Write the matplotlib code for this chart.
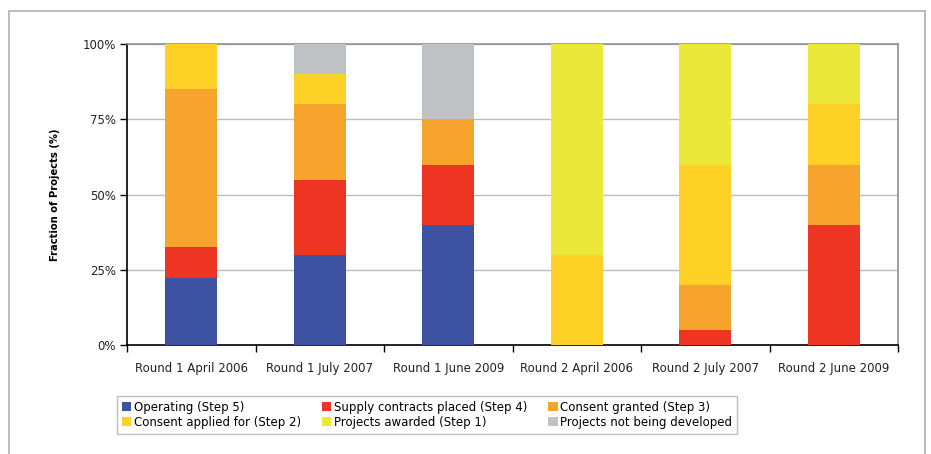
import numpy as np
import matplotlib
matplotlib.use("Agg")
from matplotlib import pyplot as plt
from matplotlib.patches import Rectangle

categories = ["Round 1 April 2006", "Round 1 July 2007", "Round 1 June 2009",
              "Round 2 April 2006", "Round 2 July 2007", "Round 2 June 2009"]

# fractions of projects (%) per stage, bottom to top
operating = [22.5, 30, 40, 0, 0, 0]
supply_contracts = [10, 25, 20, 0, 5, 40]
consent_granted = [52.5, 25, 15, 0, 15, 20]
consent_applied = [15, 10, 0, 30, 40, 20]
projects_awarded = [0, 0, 0, 70, 40, 20]
not_developed = [0, 10, 25, 0, 0, 0]

series = [
    ("Operating (Step 5)", operating, "#3D52A1"),
    ("Supply contracts placed (Step 4)", supply_contracts, "#EE3524"),
    ("Consent granted (Step 3)", consent_granted, "#F7A42E"),
    ("Consent applied for (Step 2)", consent_applied, "#FDD125"),
    ("Projects awarded (Step 1)", projects_awarded, "#EBE83A"),
    ("Projects not being developed", not_developed, "#C0C1C4"),
]

fig = plt.figure(figsize=(9.31, 4.54), dpi=100)
fig.patches.append(Rectangle((9 / 931, -0.1), (925 - 9) / 931, 1.1 - 11 / 454,
                             transform=fig.transFigure, fill=False,
                             edgecolor="#b0b0b0", linewidth=1.2, zorder=0))

ax = fig.add_axes([127 / 931, 1 - 345.3 / 454, 771 / 931, 301.3 / 454])

x = np.arange(len(categories))
bottom = np.zeros(len(categories))
handles = []
for label, vals, color in series:
    vals = np.array(vals, dtype=float)
    h = ax.bar(x, vals, bottom=bottom, width=0.405, color=color, label=label,
               linewidth=0, zorder=3)
    handles.append(h)
    bottom += vals

ax.set_xlim(-0.5, len(categories) - 0.5)
ax.set_ylim(0, 100)
ax.set_yticks([0, 25, 50, 75, 100])
ax.set_yticklabels(["0%", "25%", "50%", "75%", "100%"], fontsize=8.5, color="#222222")
ax.set_xticks(x)
ax.set_xticklabels(categories, fontsize=8.5, color="#222222")
ax.set_xticks(np.arange(-0.5, len(categories)), minor=True)
ax.tick_params(axis="x", which="major", length=0, pad=12)
ax.tick_params(axis="x", which="minor", length=5, width=1, direction="out")
ax.tick_params(axis="y", length=5, width=1, direction="out", pad=3)
ax.yaxis.grid(True, color="#bdbdbd", linewidth=1, zorder=0)
ax.set_axisbelow(True)
for side in ["left", "bottom"]:
    ax.spines[side].set_color("black")
    ax.spines[side].set_linewidth(1.2)
for side in ["top", "right"]:
    ax.spines[side].set_color("#909090")
    ax.spines[side].set_linewidth(1.2)
ax.set_ylabel("Fraction of Projects (%)", fontsize=8, fontweight="bold",
              fontstretch="condensed", labelpad=16)

order = [0, 3, 1, 4, 2, 5]
leg = fig.legend([handles[i] for i in order], [series[i][0] for i in order],
                 ncol=3, loc="upper left", bbox_to_anchor=(117 / 931, 1 - 396 / 454),
                 fontsize=8.5, frameon=True, fancybox=False, edgecolor="#b0b0b0",
                 handlelength=0.8, handleheight=0.8, handletextpad=0.2,
                 columnspacing=1.8, labelspacing=0.2, borderpad=0.4,
                 borderaxespad=0)
leg.get_frame().set_linewidth(1)

fig.savefig("out.png", dpi=100)
